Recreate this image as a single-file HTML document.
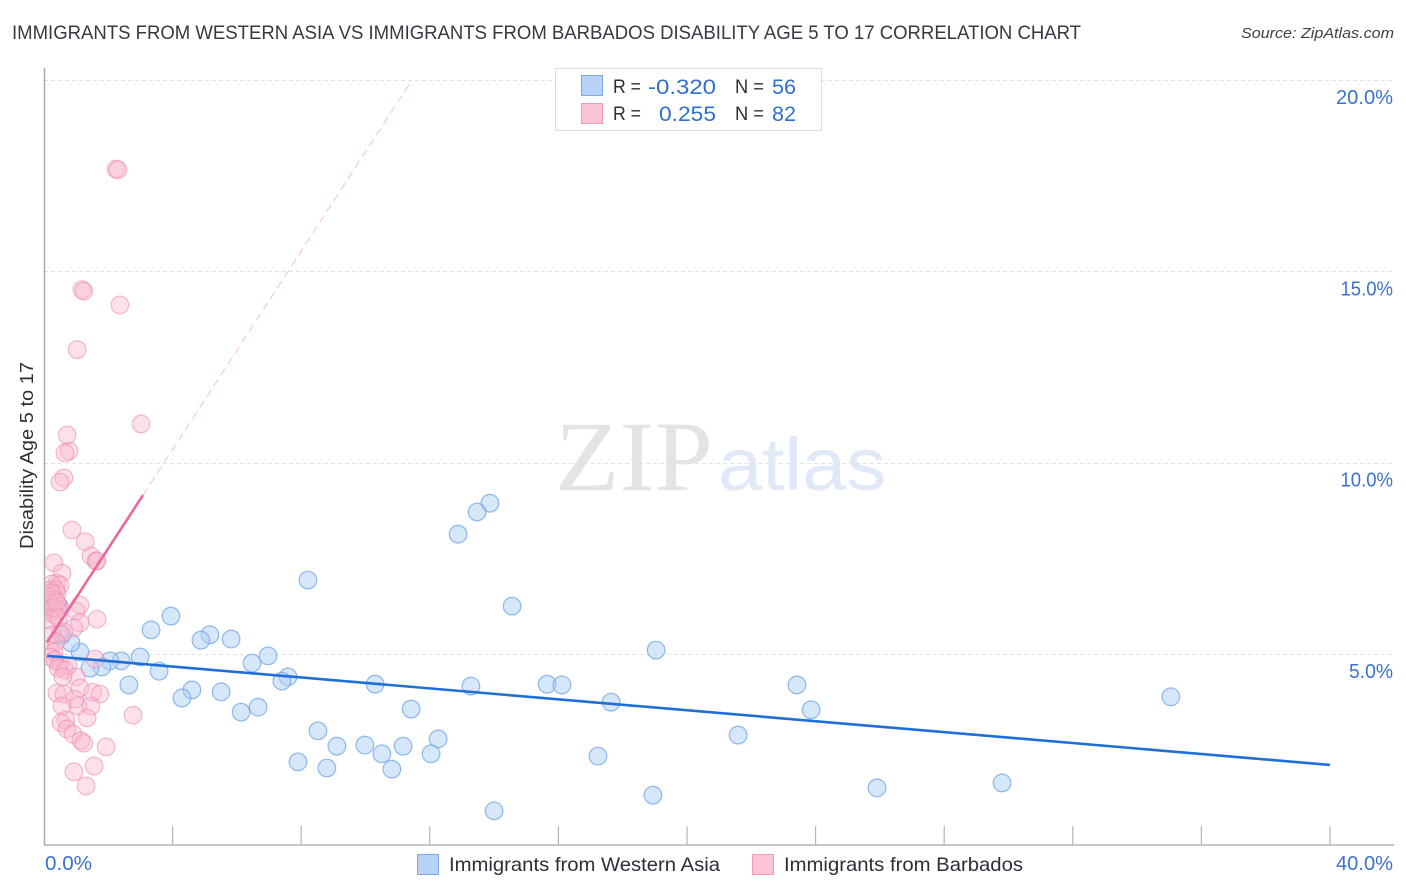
<!DOCTYPE html>
<html>
<head>
<meta charset="utf-8">
<style>
html,body{margin:0;padding:0;background:#fff;width:1406px;height:892px;overflow:hidden}
svg{display:block}
text{font-family:"Liberation Sans",sans-serif}
</style>
</head>
<body>
<svg id="chart" xmlns="http://www.w3.org/2000/svg" width="1406" height="892" viewBox="0 0 1406 892">
  <defs><clipPath id="plot-clip"><rect x="45.2" y="60" width="1350" height="785"/></clipPath></defs>
  <text x="12" y="39" font-size="19.5" fill="#343942" textLength="1069" lengthAdjust="spacingAndGlyphs">IMMIGRANTS FROM WESTERN ASIA VS IMMIGRANTS FROM BARBADOS DISABILITY AGE 5 TO 17 CORRELATION CHART</text>
  <text x="1241" y="38" font-size="15" font-style="italic" fill="#3c4048" textLength="153" lengthAdjust="spacingAndGlyphs">Source: ZipAtlas.com</text>
  <g>
    <text x="555" y="490" font-size="100" style="font-family:'Liberation Serif',serif" fill="#e4e4e4" textLength="158" lengthAdjust="spacingAndGlyphs">ZIP</text>
    <text x="718" y="490" font-size="74" fill="#dfe9f8" textLength="168" lengthAdjust="spacingAndGlyphs">atlas</text>
  </g>
  <g id="grid"></g>
  <g id="axes"></g>
  <g id="points-blue" clip-path="url(#plot-clip)"></g>
  <g id="points-pink" clip-path="url(#plot-clip)"></g>
  <g id="trends"></g>
  <text transform="translate(33,549) rotate(-90)" font-size="18.5" fill="#2a2f38" textLength="187" lengthAdjust="spacingAndGlyphs">Disability Age 5 to 17</text>

  <g>
    <rect x="555.5" y="68.5" width="266" height="62" fill="#fff" fill-opacity="0.9" stroke="#dcdcdc"/>
    <rect x="581.5" y="75.5" width="21" height="20" fill="#b7d3f7" stroke="#7ea9e0"/>
    <text x="613" y="93" font-size="19" fill="#2a2f38" textLength="28" lengthAdjust="spacingAndGlyphs">R =</text>
    <text x="648" y="94" font-size="21" fill="#2f6fd0" textLength="68" lengthAdjust="spacingAndGlyphs">-0.320</text>
    <text x="735" y="93" font-size="19" fill="#2a2f38" textLength="29" lengthAdjust="spacingAndGlyphs">N =</text>
    <text x="772" y="94" font-size="21" fill="#2f6fd0" textLength="24" lengthAdjust="spacingAndGlyphs">56</text>
    <rect x="581.5" y="103.5" width="21" height="20" fill="#fcc4d6" stroke="#f09ab8"/>
    <text x="613" y="120" font-size="19" fill="#2a2f38" textLength="28" lengthAdjust="spacingAndGlyphs">R =</text>
    <text x="659" y="121" font-size="21" fill="#2f6fd0" textLength="57" lengthAdjust="spacingAndGlyphs">0.255</text>
    <text x="735" y="120" font-size="19" fill="#2a2f38" textLength="29" lengthAdjust="spacingAndGlyphs">N =</text>
    <text x="772" y="121" font-size="21" fill="#2f6fd0" textLength="24" lengthAdjust="spacingAndGlyphs">82</text>
  </g>

  <g>
    <g>
      <rect x="417.5" y="854.5" width="21" height="20" fill="#b7d3f7" stroke="#7ea9e0"/>
      <text x="449" y="871" font-size="19.5" fill="#2a2f38" textLength="271" lengthAdjust="spacingAndGlyphs">Immigrants from Western Asia</text>
    </g>
    <g>
      <rect x="752.5" y="854.5" width="21" height="20" fill="#fcc4d6" stroke="#f09ab8"/>
      <text x="784" y="871" font-size="19.5" fill="#2a2f38" textLength="239" lengthAdjust="spacingAndGlyphs">Immigrants from Barbados</text>
    </g>
  </g>
</svg>

<script>
const yTickValues = [5, 10, 15, 20];
const yTickLabels = ["5.0%", "10.0%", "15.0%", "20.0%"];
const xTickValues = [0, 4, 8, 12, 16, 20, 24, 28, 32, 36, 40];
const xEndValues = [0, 40];
const xEndLabels = ["0.0%", "40.0%"];

const blueX = [13.87,13.47,12.88,8.21,14.56,3.95,3.33,5.16,4.88,5.82,19.04,1.12,0.84,0.56,0.44,2.99,2.40,2.05,1.80,1.43,6.97,6.47,7.59,7.40,3.58,2.64,4.60,4.29,5.51,10.30,13.28,15.65,16.11,23.42,17.64,35.05,23.86,11.42,6.66,6.13,8.52,21.59,12.26,9.11,9.98,11.17,10.51,12.04,17.23,7.90,8.80,10.82,29.80,25.91,18.94,14.00];
const blueY = [8.94,8.71,8.13,6.93,6.25,5.99,5.63,5.50,5.36,5.39,5.10,5.05,5.29,5.50,6.28,4.92,4.82,4.82,4.66,4.63,4.95,4.76,4.40,4.29,4.55,4.19,4.06,3.85,4.01,4.21,4.16,4.21,4.19,4.19,3.74,3.88,3.54,3.56,3.61,3.48,2.99,2.88,2.78,2.59,2.62,2.59,2.39,2.39,2.33,2.18,2.02,1.99,1.63,1.50,1.31,0.90];

const pinkX = [2.24,2.30,1.18,1.24,2.36,1.03,3.02,0.72,0.78,0.65,0.62,0.50,0.87,1.28,1.46,1.62,1.65,0.31,0.56,0.40,0.25,0.50,0.19,0.37,0.28,0.40,0.19,0.34,1.12,0.19,0.31,0.50,0.25,0.44,0.16,1.00,0.34,0.22,1.65,1.12,0.93,0.50,0.25,0.62,0.37,0.19,0.31,0.19,1.59,0.34,0.50,0.75,0.44,0.65,1.00,0.59,1.12,0.40,0.62,1.52,1.74,0.96,1.06,0.56,1.46,2.77,1.34,0.68,0.53,0.72,0.90,1.15,1.24,1.93,1.56,0.93,1.31,0.13,0.22,0.28,0.40,0.45];
const pinkY = [17.67,17.65,14.52,14.48,14.12,12.95,11.01,10.72,10.30,10.25,9.60,9.49,8.24,7.93,7.56,7.43,7.43,7.38,7.11,6.85,6.83,6.80,6.67,6.67,6.54,6.57,6.49,6.41,6.28,6.31,6.23,6.23,6.12,6.15,6.07,6.12,6.02,5.89,5.91,5.81,5.68,5.55,5.50,5.57,5.31,5.10,5.05,4.92,4.87,4.84,4.74,4.68,4.63,4.58,4.40,4.40,4.11,3.98,3.95,4.00,3.95,3.82,3.64,3.64,3.64,3.40,3.33,3.27,3.20,3.04,2.91,2.73,2.67,2.57,2.07,1.92,1.55,6.40,6.60,6.20,6.35,5.95];

const blueTrendX = [0.1, 40];
const blueTrendY = [4.95, 2.10];
const pinkTrendX = [0.1, 3.08];
const pinkTrendY = [5.31, 9.15];
const pinkDashX = [3.08, 11.45];
const pinkDashY = [9.15, 20.0];

const NS = 'http://www.w3.org/2000/svg';
const sx = function (v) { return 44 + v * 32.15; };
const sy = function (v) { return 845.3 - v * 38.27; };
const labelWidth = function (s) { return 44 + 13 * (s.length - 4) - (s.indexOf('1') >= 0 ? 4.5 : 0); };

function make(tag, parentId, attrs) {
  const el = document.createElementNS(NS, tag);
  Object.keys(attrs).forEach(function (k) { el.setAttribute(k, attrs[k]); });
  document.getElementById(parentId).appendChild(el);
  return el;
}

yTickValues.forEach(function (v, i) {
  const line = make('line', 'grid', {x1: 44, x2: 1394, y1: Math.round(sy(v)) + 0.5, y2: Math.round(sy(v)) + 0.5, stroke: '#e2e2e2', 'stroke-width': 1, 'stroke-dasharray': '4 3'});
  
  
  const w = labelWidth(yTickLabels[i]);
  const label = make('text', 'axes', {x: 1393 - w, y: sy(v) + 24, 'font-size': 20, fill: '#3a72d0', textLength: w, lengthAdjust: 'spacingAndGlyphs'});
  label.textContent = yTickLabels[i];
  
  
});
const xAxis = make('line', 'grid', {x1: 44, x2: 1394, y1: 845, y2: 845, stroke: '#b4b4b4', 'stroke-width': 1.5});


const yAxis = make('line', 'grid', {x1: 44.5, x2: 44.5, y1: 68, y2: 845, stroke: '#aaaaaa', 'stroke-width': 1.5});



xTickValues.forEach(function (v) {
  if (v === 0) return;
  const tick = make('line', 'axes', {x1: sx(v), x2: sx(v), y1: 826, y2: 845, stroke: '#b4b4b4', 'stroke-width': 1.2});
  
  
});
xEndValues.forEach(function (v, i) {
  const w = labelWidth(xEndLabels[i]) + (i === 0 ? 3 : 0);
  const label = make('text', 'axes', {x: i === 0 ? sx(v) + 1 : 1393 - w, y: 870, 'font-size': 20, fill: '#3a72d0', textLength: w, lengthAdjust: 'spacingAndGlyphs'});
  label.textContent = xEndLabels[i];
  
  
});

blueX.forEach(function (v, i) {
  const c = make('circle', 'points-blue', {cx: sx(v), cy: sy(blueY[i]), r: 8.8, fill: '#b0cff5', 'fill-opacity': 0.5, stroke: '#6ca3e4', 'stroke-opacity': 0.75, 'stroke-width': 1.2});
  
  
});
pinkX.forEach(function (v, i) {
  const c = make('circle', 'points-pink', {cx: sx(v), cy: sy(pinkY[i]), r: 8.8, fill: '#f9b8cf', 'fill-opacity': 0.42, stroke: '#ee90b0', 'stroke-opacity': 0.62, 'stroke-width': 1.2});
  
  
});

const blueTrend = make('line', 'trends', {x1: sx(blueTrendX[0]), y1: sy(blueTrendY[0]), x2: sx(blueTrendX[1]), y2: sy(blueTrendY[1]), stroke: '#1f6fd6', 'stroke-width': 2.6});


const pinkTrend = make('line', 'trends', {x1: sx(pinkTrendX[0]), y1: sy(pinkTrendY[0]), x2: sx(pinkTrendX[1]), y2: sy(pinkTrendY[1]), stroke: '#e9699a', 'stroke-width': 2.6});


const pinkDash = make('line', 'trends', {x1: sx(pinkDashX[0]), y1: sy(pinkDashY[0]), x2: sx(pinkDashX[1]), y2: sy(pinkDashY[1]), stroke: '#f0b0c6', 'stroke-width': 0.8, 'stroke-dasharray': '8 5'});


</script>
</body>
</html>
